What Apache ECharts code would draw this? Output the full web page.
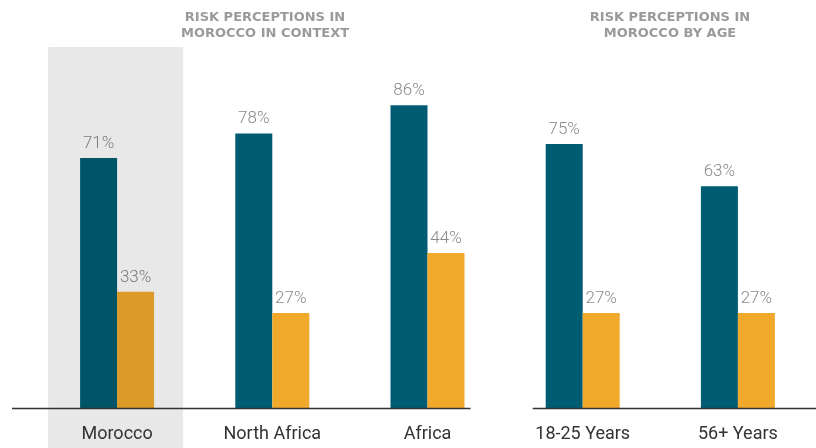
<!DOCTYPE html>
<html>
<head>
<meta charset="utf-8">
<script src="https://cdn.jsdelivr.net/npm/echarts@6/dist/echarts.min.js"></script>
<style>
  html, body { margin: 0; padding: 0; background: #fff; }
  #chart { width: 816px; height: 448px; }
</style>
</head>
<body>
<div id="chart"></div>
<script>
// Share of respondents who see risk: regional comparison, then by age group
const categories = ['Morocco', 'North Africa', 'Africa', '18-25 Years', '56+ Years'];
const riskHigh = [71, 78, 86, 75, 63];
const riskLow = [33, 27, 44, 27, 27];
const panelTitles = ['RISK PERCEPTIONS IN\nMOROCCO IN CONTEXT', 'RISK PERCEPTIONS IN\nMOROCCO BY AGE'];

const TEAL = '#005c72';
const ORANGE = '#f1a92c';
// Bars behind the highlight panel are shaded slightly darker
const TEAL_HL = '#005468';
const ORANGE_HL = '#dc9a29';
const highlightIndex = 0;

function itemsFor(values, base, hl) {
  return values.map((v, i) => ({
    value: v,
    itemStyle: { color: i === highlightIndex ? hl : base },
    label: { color: i === highlightIndex ? '#7c7c7c' : '#8a8a8a' }
  }));
}

const chart = echarts.init(document.getElementById('chart'), null, { renderer: 'canvas' });

const labelStyle = {
  show: true,
  position: 'top',
  distance: 6,
  formatter: '{c}%',
  fontFamily: 'Roboto',
  fontWeight: 300,
  fontSize: 17
};

const titleText = { fontFamily: 'DejaVu Sans', fontWeight: 'bold', fontSize: 13, color: '#9a9a9a', lineHeight: 16 };

chart.setOption({
  animation: false,
  backgroundColor: '#ffffff',
  title: [
    { text: panelTitles[0], left: 260, top: 5, textAlign: 'center', textStyle: titleText },
    { text: panelTitles[1], left: 665, top: 5, textAlign: 'center', textStyle: titleText }
  ],
  grid: { left: 39.5, right: 0.5, top: 56, bottom: 40, containLabel: false },
  xAxis: {
    type: 'category',
    data: categories,
    axisLine: { show: false },
    axisTick: { show: false },
    axisLabel: { color: '#333', fontFamily: 'Roboto', fontSize: 18, margin: 17 }
  },
  yAxis: {
    type: 'value', min: 0, max: 100, show: false
  },
  series: [
    {
      name: 'High', type: 'bar', barWidth: 37, barGap: '0%',
      data: itemsFor(riskHigh, TEAL, TEAL_HL), label: labelStyle, z: 3
    },
    {
      name: 'Low', type: 'bar', barWidth: 37, barGap: '0%',
      data: itemsFor(riskLow, ORANGE, ORANGE_HL), label: labelStyle, z: 3
    }
  ]
});

// Panel decorations positioned from the axis scale
function drawDecor() {
  const cx = i => chart.convertToPixel({ xAxisIndex: 0 }, categories[i]);
  const base = chart.convertToPixel({ yAxisIndex: 0 }, 0);
  const hl = cx(highlightIndex);
  chart.setOption({
    graphic: [
      {
        type: 'rect', z: 0, silent: true,
        shape: { x: hl - 69, y: 47, width: 135, height: 448 - 47 },
        style: { fill: '#e8e8e8' }
      },
      {
        type: 'line', z: 5, silent: true,
        shape: { x1: 12, y1: base + 0.5, x2: cx(2) + 43, y2: base + 0.5 },
        style: { stroke: '#333', lineWidth: 1.5 }
      },
      {
        type: 'line', z: 5, silent: true,
        shape: { x1: cx(3) - 50, y1: base + 0.5, x2: 816, y2: base + 0.5 },
        style: { stroke: '#333', lineWidth: 1.5 }
      }
    ]
  });
}
drawDecor();
</script>
</body>
</html>
